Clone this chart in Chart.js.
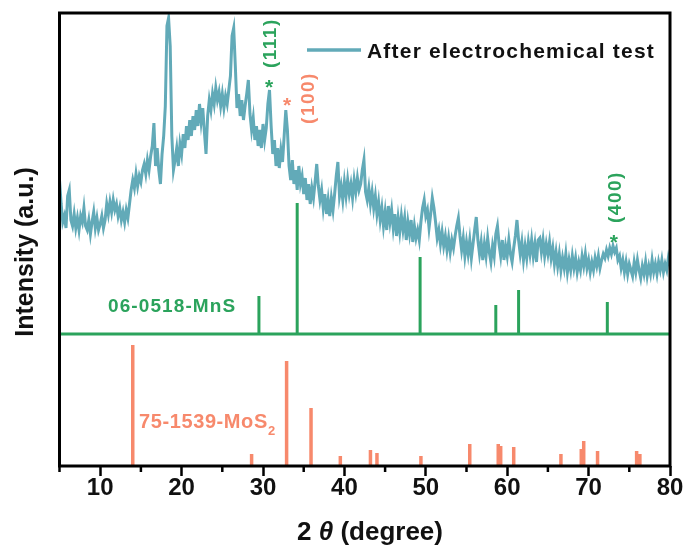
<!DOCTYPE html>
<html>
<head>
<meta charset="utf-8">
<script src="https://cdn.jsdelivr.net/npm/chart.js@4.4.1/dist/chart.umd.min.js"></script>
<style>
  html, body { margin: 0; padding: 0; background: #fff; }
  canvas { display: block; }
</style>
</head>
<body>
<canvas id="xrd" width="689" height="546"></canvas>
<script>
// XRD scan after the electrochemical test, 5-80 deg, 0.2 deg step
const scanStart = 5;
const scanStep = 0.2;
const afterTest = [
  286, 262, 244, 250, 238,   // 5
  270, 276, 246, 240, 252,   // 6
  238, 248, 236, 250, 244,   // 7
  258, 240, 236, 246, 232,   // 8
  244, 254, 238, 248, 236,   // 9
  242, 250, 238, 246, 262,   // 10
  252, 264, 254, 266, 256,   // 11
  262, 250, 258, 246, 254,   // 12
  244, 256, 248, 262, 276,   // 13
  286, 278, 292, 280, 290,   // 14
  284, 296, 302, 292, 306,   // 15
  296, 310, 320, 343, 300,   // 16
  318, 296, 282, 312, 330,   // 17
  360, 440, 448, 420, 330,   // 18
  296, 306, 318, 300, 322,   // 19
  312, 332, 318, 340, 326,   // 20
  346, 330, 350, 336, 356,   // 21
  340, 362, 344, 358, 334,   // 22
  312, 350, 366, 356, 372,   // 23
  362, 378, 366, 374, 360,   // 24
  372, 358, 370, 362, 376,   // 25
  390, 430, 438, 400, 358,   // 26
  372, 350, 366, 346, 360,   // 27
  372, 386, 352, 336, 348,   // 28
  326, 340, 320, 336, 318,   // 29
  342, 326, 338, 362, 376,   // 30
  340, 312, 326, 300, 318,   // 31
  298, 316, 304, 330, 356,   // 32
  336, 300, 286, 306, 282,   // 33
  296, 276, 300, 282, 290,   // 34
  272, 288, 266, 282, 262,   // 35
  278, 268, 284, 302, 280,   // 36
  266, 276, 258, 272, 252,   // 37
  266, 250, 268, 256, 272,   // 38
  290, 304, 270, 280, 266,   // 39
  284, 270, 286, 272, 282,   // 40
  268, 286, 274, 288, 276,   // 41
  282, 296, 306, 274, 266,   // 42
  278, 262, 274, 258, 270,   // 43
  252, 264, 246, 258, 240,   // 44
  254, 236, 260, 244, 256,   // 45
  238, 252, 230, 248, 234,   // 46
  250, 236, 248, 226, 244,   // 47
  232, 246, 224, 240, 228,   // 48
  236, 226, 244, 258, 266,   // 49
  250, 256, 238, 252, 268,   // 50
  258, 244, 228, 236, 222,   // 51
  234, 220, 230, 216, 228,   // 52
  214, 226, 218, 230, 240,   // 53
  248, 230, 216, 228, 210,   // 54
  224, 212, 226, 208, 222,   // 55
  236, 249, 226, 212, 224,   // 56
  206, 222, 210, 228, 214,   // 57
  204, 220, 210, 232, 240,   // 58
  222, 210, 226, 206, 220,   // 59
  210, 226, 212, 204, 218,   // 60
  230, 246, 226, 212, 224,   // 61
  206, 220, 208, 224, 212,   // 62
  226, 210, 222, 204, 226,   // 63
  228, 214, 226, 210, 222,   // 64
  212, 224, 208, 218, 202,   // 65
  214, 200, 212, 196, 208,   // 66
  198, 212, 194, 206, 196,   // 67
  210, 198, 208, 194, 204,   // 68
  196, 210, 200, 212, 198,   // 69
  206, 194, 204, 196, 208,   // 70
  200, 210, 198, 206, 212,   // 71
  208, 216, 210, 218, 212,   // 72
  220, 214, 218, 206, 210,   // 73
  198, 206, 194, 204, 192,   // 74
  202, 196, 190, 204, 194,   // 75
  206, 196, 188, 200, 192,   // 76
  204, 190, 200, 192, 206,   // 77
  194, 202, 192, 204, 196,   // 78
  206, 194, 202, 196, 208,   // 79
  200                        // 80
];

// reference card 06-0518 (MnS), drawn above its own baseline
const mnsBase = 132;
const mnsPos = [29.5, 34.2, 49.3, 58.6, 61.4, 72.3];
const mnsInt = [38, 131, 77, 29, 44, 32];

// reference card 75-1539 (MoS2)
const mos2Pos = [14.0, 28.6, 32.9, 35.9, 39.5, 43.2, 44.0, 49.4, 55.4, 58.9, 59.2, 60.8, 66.6, 69.1, 69.4, 71.1, 75.9, 76.3];
const mos2Int = [121, 12, 105, 58, 10, 16, 13, 10, 22, 22, 20, 19, 12, 17, 25, 15, 15, 12];

const xTicks = [10, 20, 30, 40, 50, 60, 70, 80];
const minorTicks = [5, 15, 25, 35, 45, 55, 65, 75];

// indexed peaks: [2theta of star, height of star, label, card]
const peakMarks = [
  [30.75, 383, '(111)', 'mns'],
  [32.95, 365, '(100)', 'mos2'],
  [73.1, 228, '(400)', 'mns']
];

const TEAL = '#62aab8';
const GREEN = '#2ba35c';
const SALMON = '#f7896c';
const FONT = '"Liberation Sans", Arial, Helvetica, sans-serif';

const scanPoints = afterTest.map((v, i) => ({ x: +(scanStart + i * scanStep).toFixed(1), y: v }));

function sticks(pos, ints, base) {
  const pts = [];
  pos.forEach((p, i) => {
    pts.push({ x: p, y: base }, { x: p, y: base + ints[i] }, { x: p, y: null });
  });
  return pts;
}

function spacedText(ctx, txt, x, y, font, spacing) {
  ctx.font = font;
  ctx.letterSpacing = spacing;
  ctx.fillText(txt, x, y);
  const w = ctx.measureText(txt).width;
  ctx.letterSpacing = '0px';
  return w;
}

const decor = {
  id: 'decor',
  afterDatasetsDraw(chart) {
    const { ctx, chartArea: a, scales: { x, y } } = chart;
    ctx.save();

    // frame
    ctx.strokeStyle = '#000';
    ctx.lineWidth = 3;
    ctx.strokeRect(a.left, a.top, a.right - a.left, a.bottom - a.top);

    // minor ticks
    ctx.lineWidth = 2.5;
    minorTicks.forEach(t => {
      const px = x.getPixelForValue(t);
      ctx.beginPath();
      ctx.moveTo(px, a.bottom);
      ctx.lineTo(px, a.bottom + 6);
      ctx.stroke();
    });

    // stars and hkl labels
    peakMarks.forEach(([pos, h, txt, card]) => {
      const col = card === 'mns' ? GREEN : SALMON;
      const px = x.getPixelForValue(pos);
      const py = y.getPixelForValue(h);
      ctx.fillStyle = col;
      ctx.font = 'bold 21px ' + FONT;
      ctx.textAlign = 'center';
      ctx.textBaseline = 'middle';
      ctx.fillText('*', px, py + 5);
      ctx.save();
      if (card === 'mns') {
        ctx.translate(px + 2, py - 15);
        ctx.textAlign = 'left';
      } else {
        ctx.translate(px + 22, py - 3);
        ctx.textAlign = 'center';
      }
      ctx.rotate(-Math.PI / 2);
      spacedText(ctx, txt, 0, 0, 'bold 19px ' + FONT, '1.5px');
      ctx.restore();
    });

    // card names
    ctx.textAlign = 'left';
    ctx.textBaseline = 'alphabetic';
    ctx.fillStyle = GREEN;
    spacedText(ctx, '06-0518-MnS', 108, 312, 'bold 19px ' + FONT, '1.1px');
    ctx.fillStyle = SALMON;
    const w = spacedText(ctx, '75-1539-MoS', 139, 428, 'bold 20px ' + FONT, '0.6px');
    ctx.font = 'bold 13px ' + FONT;
    ctx.fillText('2', 139 + w, 435);

    // legend
    ctx.strokeStyle = TEAL;
    ctx.lineWidth = 3.5;
    ctx.beginPath();
    ctx.moveTo(307, 50);
    ctx.lineTo(361, 50);
    ctx.stroke();
    ctx.fillStyle = '#111';
    spacedText(ctx, chart.data.datasets[0].label, 367, 58, 'bold 21px ' + FONT, '1.2px');

    // axis titles
    const parts = [['2 ', 'bold 26px '], ['\u03b8', 'italic bold 26px '], [' (degree)', 'bold 26px ']];
    let total = 0;
    parts.forEach(([t, f]) => { ctx.font = f + FONT; total += ctx.measureText(t).width; });
    let cx = 370 - total / 2;
    parts.forEach(([t, f]) => {
      ctx.font = f + FONT;
      ctx.fillText(t, cx, 540);
      cx += ctx.measureText(t).width;
    });

    ctx.save();
    ctx.translate(33, 252);
    ctx.rotate(-Math.PI / 2);
    ctx.textAlign = 'center';
    ctx.font = 'bold 25px ' + FONT;
    ctx.fillText('Intensity (a.u.)', 0, 0);
    ctx.restore();

    ctx.restore();
  }
};

new Chart(document.getElementById('xrd'), {
  type: 'line',
  data: {
    datasets: [
      {
        label: 'After electrochemical test',
        data: scanPoints,
        borderColor: TEAL,
        borderWidth: 3,
        pointRadius: 0,
        tension: 0
      },
      {
        label: 'MnS baseline',
        data: [{ x: 5, y: mnsBase }, { x: 80, y: mnsBase }],
        borderColor: GREEN,
        borderWidth: 3,
        pointRadius: 0
      },
      {
        label: '06-0518-MnS',
        data: sticks(mnsPos, mnsInt, mnsBase),
        borderColor: GREEN,
        borderWidth: 3,
        pointRadius: 0,
        spanGaps: false
      },
      {
        label: '75-1539-MoS2',
        data: sticks(mos2Pos, mos2Int, 0),
        borderColor: SALMON,
        borderWidth: 3.5,
        pointRadius: 0,
        spanGaps: false
      }
    ]
  },
  options: {
    responsive: false,
    animation: false,
    layout: { padding: { top: 13, right: 19, left: 0, bottom: 0 } },
    plugins: {
      legend: { display: false },
      tooltip: { enabled: false }
    },
    scales: {
      x: {
        type: 'linear',
        min: 5,
        max: 80,
        afterBuildTicks: s => { s.ticks = xTicks.map(v => ({ value: v })); },
        afterFit: s => { s.height = 80; },
        grid: { drawOnChartArea: false, drawTicks: true, tickLength: 10, tickWidth: 2.5, tickColor: '#000' },
        border: { display: false },
        ticks: {
          color: '#111',
          font: { family: FONT, size: 24, weight: 'bold' },
          padding: -2,
          maxRotation: 0
        }
      },
      y: {
        min: 0,
        max: 453,
        afterFit: s => { s.width = 59.5; },
        grid: { display: false },
        border: { display: false },
        ticks: { display: false }
      }
    }
  },
  plugins: [decor]
});
</script>
</body>
</html>
